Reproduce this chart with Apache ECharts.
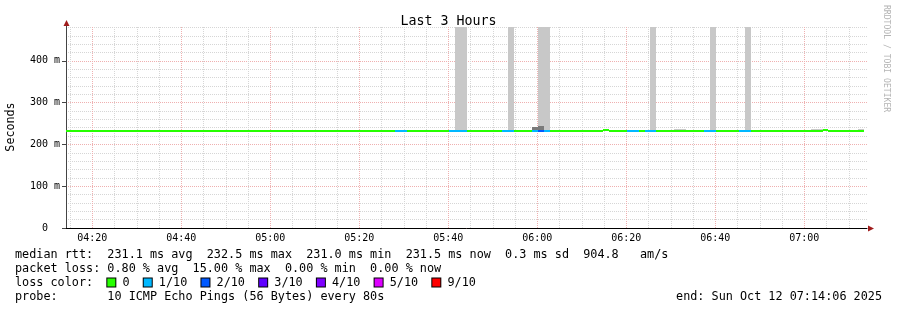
<!DOCTYPE html>
<html><head><meta charset="utf-8">
<script src="https://cdn.jsdelivr.net/npm/echarts@6/dist/echarts.min.js"></script>
<style>html,body{margin:0;padding:0;background:#fff}#c{width:897px;height:310px}</style>
</head><body><div id="c"></div>
<script>
// ---- data ----
const timeStart = "04:14:06";
const timeEnd = "07:14:06";
const majorTickLabels = ["04:20","04:40","05:00","05:20","05:40","06:00","06:20","06:40","07:00"];
const yTickValues = [0, 100, 200, 300, 400];
const yMax = 481; // ms at top of plot
// median rtt: [from, to, ms]
const medianSegments = [
  ["04:14:06", "06:14:46", 231.1],
  ["06:14:46", "06:16:06", 233.6],
  ["06:16:06", "07:04:06", 231.1],
  ["07:04:06", "07:05:26", 233.6],
  ["07:05:26", "07:13:26", 231.1]
];
// packet loss: [from, to, lost pings of 10]
const lossSegments = [
  ["05:28:06", "05:30:46", 1],
  ["05:40:06", "05:44:06", 1],
  ["05:52:06", "05:54:46", 1],
  ["05:58:46", "06:00:06", 1],
  ["06:00:06", "06:01:26", 2],
  ["06:01:26", "06:02:46", 1],
  ["06:20:06", "06:22:46", 1],
  ["06:24:06", "06:26:46", 1],
  ["06:37:26", "06:40:06", 1],
  ["06:45:26", "06:48:06", 1]
];
// smoke (ping spread): [from, to, low ms, high ms]
const smokeLight = [
  ["05:41:26", "05:44:06", 229, 481],
  ["05:53:26", "05:54:46", 229, 481],
  ["06:00:06", "06:02:46", 229, 481],
  ["06:25:26", "06:26:46", 229, 481],
  ["06:38:46", "06:40:06", 229, 481],
  ["06:46:46", "06:48:06", 229, 481],
  ["06:30:46", "06:33:26", 229, 236],
  ["07:01:26", "07:04:06", 229, 236],
  ["07:12:06", "07:13:26", 229, 236]
];
const smokeDense = [
  ["05:58:46", "06:00:06", 229, 242],
  ["06:00:06", "06:01:26", 229, 244]
];
const lossLevels = [0, 1, 2, 3, 4, 5, 9];
const lossLabels = ["0", "1/10", "2/10", "3/10", "4/10", "5/10", "9/10"];
const lossColors = ["#26ff00", "#00b8ff", "#0059ff", "#5e00ff", "#7e00ff", "#dd00ff", "#ff0000"];
const statLine1 = "median rtt:  231.1 ms avg  232.5 ms max  231.0 ms min  231.5 ms now  0.3 ms sd  904.8   am/s";
const statLine2 = "packet loss: 0.80 % avg  15.00 % max  0.00 % min  0.00 % now";
const probeLine = "probe:       10 ICMP Echo Pings (56 Bytes) every 80s";
const endLine = "end: Sun Oct 12 07:14:06 2025";
const titleText = "Last 3 Hours";
const yName = "Seconds";
const sideText = "RRDTOOL / TOBI OETIKER";

// ---- helpers ----
const MONO = "DejaVu Sans Mono";
function toMin(s) { const p = s.split(":").map(Number); return p[0] * 60 + p[1] + (p[2] || 0) / 60; }
function fmt(m) { const h = Math.floor(m / 60), mm = Math.round(m - h * 60); return String(h).padStart(2, "0") + ":" + String(mm).padStart(2, "0"); }
const X_MIN = toMin(timeStart), X_MAX = toMin(timeEnd);
const majorX = majorTickLabels.map(toMin);
const minorX = [];
for (let m = Math.ceil(X_MIN / 5) * 5; m <= X_MAX; m += 5) if (majorX.indexOf(m) < 0) minorX.push(m);
const minorY = [];
for (let v = 20; v <= yMax; v += 20) if (v % 100) minorY.push(v);

function lossColor(n) { const i = lossLevels.indexOf(n); return lossColors[i < 0 ? 0 : i]; }

// median line pieces coloured by loss
const bounds = new Set();
medianSegments.forEach(s => { bounds.add(toMin(s[0])); bounds.add(toMin(s[1])); });
lossSegments.forEach(s => { bounds.add(toMin(s[0])); bounds.add(toMin(s[1])); });
const bs = Array.from(bounds).sort((a, b) => a - b);
const lineData = [];
for (let i = 0; i < bs.length - 1; i++) {
  const a = bs[i], b = bs[i + 1], mid = (a + b) / 2;
  const ms = medianSegments.find(s => toMin(s[0]) <= mid && mid < toMin(s[1]));
  if (!ms) continue;
  const ls = lossSegments.find(s => toMin(s[0]) <= mid && mid < toMin(s[1]));
  lineData.push([a, b, ms[2], ls ? ls[2] : 0]);
}
const smokeLightData = smokeLight.map(s => [toMin(s[0]), toMin(s[1]), s[2], s[3]]);
const smokeDenseData = smokeDense.map(s => [toMin(s[0]), toMin(s[1]), s[2], s[3]]);

function rectItem(fill) {
  return function (params, api) {
    const a = api.coord([api.value(0), api.value(3)]);
    const b = api.coord([api.value(1), api.value(2)]);
    const x0 = Math.round(a[0]), x1 = Math.round(b[0]);
    const y0 = Math.round(a[1]), y1 = Math.round(b[1]);
    return { type: "rect", shape: { x: x0, y: y0, width: x1 - x0, height: y1 - y0 }, style: { fill: fill } };
  };
}

const chart = echarts.init(document.getElementById("c"), null, { renderer: "canvas" });
const gridLineMajor = { show: true, lineStyle: { color: "#efb0b0", width: 1, type: [1, 1] } };
const gridLineMinor = { show: true, lineStyle: { color: "#d6d6d6", width: 1, type: [1, 1] } };
chart.setOption({
  animation: false,
  backgroundColor: "#fff",
  title: { text: titleText, left: "center", top: 10, textStyle: { fontFamily: MONO, fontSize: 13.3, fontWeight: "normal", color: "#000" } },
  grid: { left: 66, right: 30, top: 27, bottom: 82, containLabel: false },
  xAxis: [
    { type: "value", min: X_MIN, max: X_MAX, gridIndex: 0, position: "bottom",
      axisLine: { show: true, onZero: false, lineStyle: { color: "#000", width: 1 } },
      axisTick: { show: false, customValues: majorX },
      axisLabel: { show: true, customValues: majorX, formatter: v => fmt(v), margin: 5, fontFamily: MONO, fontSize: 10, color: "#000" },
      splitLine: gridLineMajor },
    { type: "value", min: X_MIN, max: X_MAX, gridIndex: 0, position: "bottom",
      axisLine: { show: false }, axisTick: { show: false, customValues: minorX }, axisLabel: { show: false },
      splitLine: gridLineMinor }
  ],
  yAxis: [
    { type: "value", min: 0, max: yMax, gridIndex: 0,
      axisLine: { show: true, onZero: false, lineStyle: { color: "#444", width: 1 } },
      axisTick: { show: true, length: 4, customValues: yTickValues, lineStyle: { color: "#444" } },
      axisLabel: { show: true, customValues: yTickValues, margin: 6, fontFamily: MONO, fontSize: 10, color: "#000",
        formatter: v => v === 0 ? "{z|0}" : v + " m",
        rich: { z: { fontFamily: MONO, fontSize: 10, color: "#000", padding: [0, 12, 0, 0] } } },
      splitLine: gridLineMajor },
    { type: "value", min: 0, max: yMax, gridIndex: 0,
      axisLine: { show: false }, axisTick: { show: false, customValues: minorY }, axisLabel: { show: false },
      splitLine: gridLineMinor }
  ],
  series: [
    { type: "custom", name: "smoke", xAxisIndex: 0, yAxisIndex: 0, silent: true, z: 2,
      encode: { x: [0, 1], y: [2, 3] }, renderItem: rectItem("#c8c8c8"), data: smokeLightData },
    { type: "custom", name: "smoke dense", xAxisIndex: 0, yAxisIndex: 0, silent: true, z: 3,
      encode: { x: [0, 1], y: [2, 3] }, renderItem: rectItem("#7a7a7a"), data: smokeDenseData },
    { type: "custom", name: "median", xAxisIndex: 0, yAxisIndex: 0, silent: true, z: 4,
      encode: { x: [0, 1], y: 2 },
      renderItem: function (params, api) {
        const a = api.coord([api.value(0), api.value(2)]);
        const b = api.coord([api.value(1), api.value(2)]);
        const x0 = Math.round(a[0]), x1 = Math.round(b[0]);
        return { type: "rect", shape: { x: x0, y: Math.round(a[1]) - 1, width: x1 - x0, height: 2 },
          style: { fill: lossColor(api.value(3)) } };
      },
      data: lineData }
  ]
});

// decorations positioned from the axes
const o = chart.convertToPixel({ xAxisIndex: 0, yAxisIndex: 0 }, [X_MIN, 0]);
const t = chart.convertToPixel({ xAxisIndex: 0, yAxisIndex: 0 }, [X_MIN, yMax]);
const r = chart.convertToPixel({ xAxisIndex: 0, yAxisIndex: 0 }, [X_MAX, 0]);
const ax = Math.round(o[0]) + 0.5, ay = Math.round(o[1]) + 0.5;
const topY = Math.round(t[1]), rightX = Math.round(r[0]);
const arrowColor = "#a01c1c";

let legendRich = {};
let legendStr = "loss color:  ";
lossLevels.forEach((lv, i) => {
  legendRich["s" + i] = { width: 8, height: 8, backgroundColor: lossColors[i], borderColor: "#000", borderWidth: 1 };
  legendStr += "{s" + i + "| } " + "{t|" + lossLabels[i] + "}" + (i < lossLevels.length - 1 ? "{t|  }" : "");
});
legendRich.t = { fontFamily: MONO, fontSize: 11.8, color: "#000" };
const textBase = { fontFamily: MONO, fontSize: 11.8, fill: "#000", textVerticalAlign: "middle" };

chart.setOption({
  graphic: [
    { type: "line", silent: true, shape: { x1: ax, y1: ay, x2: ax, y2: topY - 2 }, style: { stroke: "#444", lineWidth: 1 } },
    { type: "polygon", silent: true, shape: { points: [[ax - 3, topY - 1], [ax + 3, topY - 1], [ax, topY - 7]] }, style: { fill: arrowColor } },
    { type: "polygon", silent: true, shape: { points: [[rightX + 1, ay - 3], [rightX + 1, ay + 3], [rightX + 7, ay]] }, style: { fill: arrowColor } },
    { type: "text", silent: true, x: 11, y: 127, rotation: Math.PI / 2,
      style: { text: yName, fontFamily: MONO, fontSize: 11.7, fill: "#000", textAlign: "center", textVerticalAlign: "middle" } },
    { type: "text", silent: true, x: 886, y: 5, rotation: -Math.PI / 2,
      style: { text: sideText, fontFamily: MONO, fontSize: 8.1, fill: "#b4b4b4", textAlign: "left", textVerticalAlign: "middle" } },
    { type: "text", silent: true, x: 15, y: 254.5, style: Object.assign({ text: statLine1 }, textBase) },
    { type: "text", silent: true, x: 15, y: 268.5, style: Object.assign({ text: statLine2 }, textBase) },
    { type: "text", silent: true, x: 15, y: 282.5, style: Object.assign({ text: legendStr, rich: legendRich }, textBase) },
    { type: "text", silent: true, x: 15, y: 296.5, style: Object.assign({ text: probeLine }, textBase) },
    { type: "text", silent: true, x: 882, y: 296.5, style: Object.assign({ text: endLine, textAlign: "right" }, textBase) }
  ]
});
</script>
</body></html>
